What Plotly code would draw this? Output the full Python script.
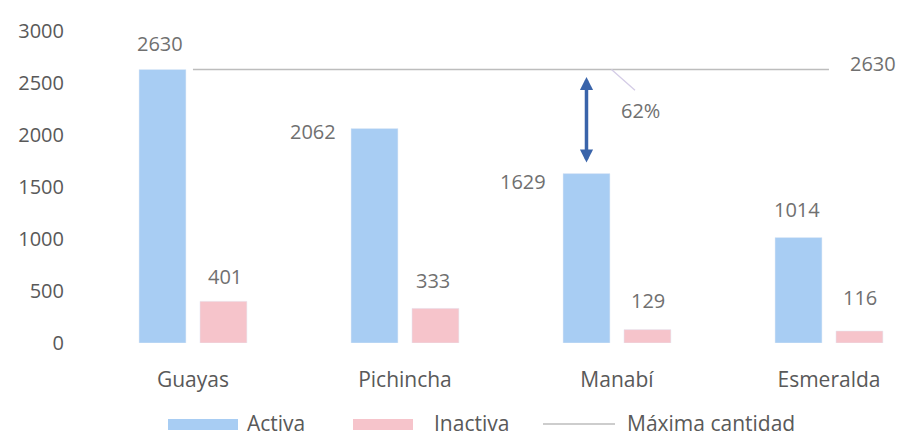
import plotly.graph_objs as go

# data
provincias = ['Guayas', 'Pichincha', 'Manabí', 'Esmeralda']
activa = [2630, 2062, 1629, 1014]
inactiva = [401, 333, 129, 116]
maxima = max(activa)
brecha_txt = '62%'
legend_names = ['Activa', 'Inactiva', 'Máxima cantidad']

BLUE = '#a8cdf3'
PINK = '#f6c4cb'
GREY_LINE = '#bdbdbd'
TXT = '#707070'
AXIS_TXT = '#595959'
FONT = 'Open Sans'

# the page body adds an 8px margin, so the figure is a bit smaller than the window
OFF = 8
W, H = 904 - OFF, 439 - OFF
L, R, T, B = 62, 2, 23, 96
PW, PH = W - L - R, H - T - B


def px(x):
    # window pixel -> paper coordinate
    return (x - OFF - L) / PW


def py(y):
    return (H - B - (y - OFF)) / PH


# label offsets in pixels (blue labels sit left of the bar for Pichincha/Manabí)
blue_shift = [(-2, 26), (-61, -3), (-63, -8), (-1, 28)]
pink_shift = [(2, 25), (-2, 28), (1, 29), (1, 33)]
half = 0.14375  # half distance between the two bars of a group

fig = go.Figure()

fig.add_trace(go.Bar(x=provincias, y=activa, marker_color=BLUE, name=legend_names[0],
                     showlegend=False))
fig.add_trace(go.Bar(x=provincias, y=inactiva, marker_color=PINK, name=legend_names[1],
                     showlegend=False))

# max line from first to last province
fig.add_trace(go.Scatter(x=[provincias[0], provincias[-1]], y=[maxima, maxima], mode='lines',
                         line=dict(color=GREY_LINE, width=1.3), name=legend_names[2],
                         showlegend=False, hoverinfo='skip'))

annotations = []
for i, (a, b) in enumerate(zip(activa, inactiva)):
    annotations.append(dict(x=i - half, y=a, text=str(a), showarrow=False,
                            xshift=blue_shift[i][0], yshift=blue_shift[i][1],
                            font=dict(family=FONT, size=20, color=TXT)))
    annotations.append(dict(x=i + half, y=b, text=str(b), showarrow=False,
                            xshift=pink_shift[i][0], yshift=pink_shift[i][1],
                            font=dict(family=FONT, size=20, color=TXT)))

# value of the max line on the right
annotations.append(dict(x=len(provincias) - 1, y=maxima, text=str(maxima), showarrow=False,
                        xshift=44, yshift=6, font=dict(family=FONT, size=20, color=TXT)))

# double arrow on Manabí
annotations.append(dict(x=2 - half, y=activa[2], ax=2 - half, ay=maxima,
                        xref='x', yref='y', axref='x', ayref='y', text='',
                        showarrow=True, arrowhead=2, startarrowhead=2, arrowside='end+start',
                        arrowwidth=3.5, arrowsize=0.75, startarrowsize=0.75,
                        arrowcolor='#3a64aa', standoff=11, startstandoff=6))

# leader line and percentage
annotations.append(dict(x=2 - half, y=maxima, text='', showarrow=True, arrowhead=0,
                        arrowwidth=1.3, arrowcolor='#d4cce6', ax=25, ay=22, xshift=25,
                        standoff=0, startstandoff=0))
annotations.append(dict(x=2 - half, y=maxima, text=brecha_txt, showarrow=False,
                        xshift=54, yshift=-41, font=dict(family=FONT, size=20, color=TXT)))

# legend drawn by hand to get the wide swatches of the original
shapes = [
    dict(type='rect', xref='paper', yref='paper', x0=px(168), x1=px(238), y0=py(430), y1=py(419),
         fillcolor=BLUE, line_width=0),
    dict(type='rect', xref='paper', yref='paper', x0=px(353), x1=px(413), y0=py(430), y1=py(419),
         fillcolor=PINK, line_width=0),
    dict(type='line', xref='paper', yref='paper', x0=px(543), x1=px(615), y0=py(424), y1=py(424),
         line=dict(color=GREY_LINE, width=1.3)),
]
for name, x in zip(legend_names, [245, 432, 625]):
    annotations.append(dict(xref='paper', yref='paper', x=px(x), y=py(423), text=name,
                            showarrow=False, xanchor='left', yanchor='middle',
                            font=dict(family=FONT, size=21, color=AXIS_TXT)))

fig.update_layout(
    width=W, height=H,
    margin=dict(l=L, r=R, t=T, b=B),
    paper_bgcolor='white', plot_bgcolor='white',
    barmode='group', bargap=0.425, bargroupgap=0.23,
    font=dict(family=FONT, size=20, color=TXT),
    annotations=annotations, shapes=shapes,
    showlegend=False,
    xaxis=dict(type='category', range=[-0.58, 3.3445], showline=False, showgrid=False,
               ticks='', ticklabelstandoff=22, automargin=False,
               tickfont=dict(family=FONT, size=21, color=AXIS_TXT)),
    yaxis=dict(range=[0, 3000], tickvals=[0, 500, 1000, 1500, 2000, 2500, 3000],
               showgrid=False, zeroline=False, showline=False, ticks='',
               ticklabelstandoff=5, automargin=False,
               tickfont=dict(family=FONT, size=20, color=AXIS_TXT)),
)

fig.write_html('out.html')
